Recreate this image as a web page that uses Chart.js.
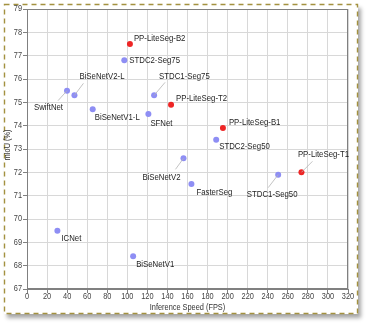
<!DOCTYPE html>
<html>
<head>
<meta charset="utf-8">
<script src="https://cdn.jsdelivr.net/npm/chart.js@4/dist/chart.umd.min.js"></script>
<style>
    body { margin: 0; background: #fff; }
    .frame {
        position: absolute; left: 4px; top: 4px;
        width: 354px; height: 310px;
        background: #fff;
        box-shadow: 3px 4px 4px rgba(0, 0, 0, 0.35);
    }
    #chart { position: absolute; left: 0; top: 0; }
</style>
</head>
<body>
<div class="frame"></div>
<canvas id="chart" width="367" height="324"></canvas>
<script>
// other real-time models
const otherNames = ['SwiftNet', 'BiSeNetV2-L', 'BiSeNetV1-L', 'STDC2-Seg75', 'STDC1-Seg75', 'SFNet',
    'STDC2-Seg50', 'BiSeNetV2', 'FasterSeg', 'STDC1-Seg50', 'ICNet', 'BiSeNetV1'];
const otherFps = [39.9, 47.3, 65.5, 97.0, 126.7, 121.0, 188.6, 156.0, 163.9, 250.4, 30.3, 105.8];
const otherMiou = [75.5, 75.3, 74.7, 76.8, 75.3, 74.5, 73.4, 72.6, 71.5, 71.9, 69.5, 68.4];

// PP-LiteSeg
const ppNames = ['PP-LiteSeg-B2', 'PP-LiteSeg-T2', 'PP-LiteSeg-B1', 'PP-LiteSeg-T1'];
const ppFps = [102.6, 143.6, 195.3, 273.6];
const ppMiou = [77.5, 74.9, 73.9, 72.0];

const xTicks = [0, 20, 40, 60, 80, 100, 120, 140, 160, 180, 200, 220, 240, 260, 280, 300, 320];
const yTicks = [67, 68, 69, 70, 71, 72, 73, 74, 75, 76, 77, 78, 79];
const xTitle = 'Inference Speed (FPS)';
const yTitle = 'mIoU (%)';

const FONT = "'Liberation Sans', Arial, sans-serif";
const NARROW = 0.82; // text is drawn squeezed sideways

// where each name goes relative to its dot; 'line' = leader line end
const labelPlace = {
    'SwiftNet': { dx: -4, dy: 17, align: 'right', line: [-9, 10] },
    'BiSeNetV2-L': { dx: 5, dy: -19, align: 'left', line: [9, -12] },
    'BiSeNetV1-L': { dx: 2, dy: 8, align: 'left' },
    'STDC2-Seg75': { dx: 5, dy: 0, align: 'left' },
    'STDC1-Seg75': { dx: 5, dy: -19, align: 'left', line: [11, -13] },
    'SFNet': { dx: 2, dy: 9, align: 'left' },
    'STDC2-Seg50': { dx: 3, dy: 7, align: 'left' },
    'BiSeNetV2': { dx: -3, dy: 19, align: 'right', line: [-8, 11] },
    'FasterSeg': { dx: 5, dy: 8, align: 'left' },
    'STDC1-Seg50': { dx: -6, dy: 20, align: 'center', line: [-10, 13] },
    'ICNet': { dx: 4, dy: 8, align: 'left' },
    'BiSeNetV1': { dx: 3, dy: 8, align: 'left' },
    'PP-LiteSeg-B2': { dx: 4, dy: -6, align: 'left' },
    'PP-LiteSeg-T2': { dx: 5, dy: -6, align: 'left' },
    'PP-LiteSeg-B1': { dx: 6, dy: -6, align: 'left' },
    'PP-LiteSeg-T1': { dx: 22, dy: -18, align: 'center', line: [11, -11] }
};

function narrowText(ctx, text, x, y, align, rot) {
    ctx.save();
    ctx.translate(x, y);
    if (rot) ctx.rotate(rot);
    ctx.scale(NARROW, 1);
    ctx.textAlign = align;
    ctx.fillText(text, 0, 0);
    ctx.restore();
}

const pointLabels = {
    id: 'pointLabels',
    afterDatasetsDraw(chart) {
        const ctx = chart.ctx;
        ctx.save();
        ctx.font = '9.5px ' + FONT;
        ctx.textBaseline = 'middle';
        chart.data.datasets.forEach((ds, di) => {
            const meta = chart.getDatasetMeta(di);
            meta.data.forEach((pt, i) => {
                const name = ds.names[i];
                const p = labelPlace[name];
                if (!p) return;
                if (p.line) {
                    ctx.strokeStyle = '#b4b4b4';
                    ctx.lineWidth = 0.8;
                    ctx.beginPath();
                    ctx.moveTo(pt.x, pt.y);
                    ctx.lineTo(pt.x + p.line[0], pt.y + p.line[1]);
                    ctx.stroke();
                }
                ctx.fillStyle = '#1e1e1e';
                narrowText(ctx, name, pt.x + p.dx, pt.y + p.dy, p.align);
            });
        });
        ctx.restore();
    }
};

// tick labels and axis titles, squeezed like the point labels
const axisText = {
    id: 'axisText',
    afterDraw(chart) {
        const ctx = chart.ctx;
        const a = chart.chartArea;
        const xs = chart.scales.x;
        const ys = chart.scales.y;
        ctx.save();
        ctx.font = '9px ' + FONT;
        ctx.fillStyle = '#444';
        ctx.textBaseline = 'middle';
        xTicks.forEach(v => narrowText(ctx, String(v), xs.getPixelForValue(v), a.bottom + 8, 'center'));
        yTicks.forEach(v => narrowText(ctx, String(v), a.left - 5, ys.getPixelForValue(v), 'right'));
        ctx.fillStyle = '#333';
        narrowText(ctx, xTitle, (a.left + a.right) / 2, a.bottom + 19, 'center');
        narrowText(ctx, yTitle, 8, (a.top + a.bottom) / 2 - 4, 'center', -Math.PI / 2);
        ctx.restore();
    }
};

// dark frame round the plot area, dashed frame round the whole figure
const frames = {
    id: 'frames',
    beforeDraw(chart) {
        const ctx = chart.ctx;
        ctx.save();
        ctx.strokeStyle = '#a3913f';
        ctx.lineWidth = 1.4;
        ctx.setLineDash([5, 4]);
        ctx.strokeRect(4.5, 4.5, 353, 309);
        ctx.restore();
    },
    beforeDatasetsDraw(chart) {
        const a = chart.chartArea;
        const ctx = chart.ctx;
        ctx.save();
        ctx.strokeStyle = '#808080';
        ctx.lineWidth = 1;
        ctx.strokeRect(a.left + 0.5, a.top + 0.5, a.right - a.left - 1, a.bottom - a.top - 1);
        ctx.restore();
    }
};

const toPoints = (xs, ys) => xs.map((x, i) => ({ x: x, y: ys[i] }));

new Chart(document.getElementById('chart'), {
    type: 'scatter',
    data: {
        datasets: [{
            names: otherNames,
            data: toPoints(otherFps, otherMiou),
            backgroundColor: '#8e8ef4',
            borderWidth: 0,
            pointRadius: 3,
        }, {
            names: ppNames,
            data: toPoints(ppFps, ppMiou),
            backgroundColor: '#ee2525',
            borderWidth: 0,
            pointRadius: 3,
        }]
    },
    options: {
        responsive: false,
        animation: false,
        layout: { padding: { left: 0, top: 9, right: 19, bottom: 0 } },
        plugins: {
            legend: { display: false },
            tooltip: { enabled: false }
        },
        scales: {
            x: {
                type: 'linear',
                min: 0,
                max: 320,
                afterBuildTicks: scale => { scale.ticks = xTicks.map(v => ({ value: v })); },
                afterFit: scale => { scale.height = 35; },
                grid: { color: '#d8d8d8', tickColor: '#808080', tickLength: 4 },
                border: { color: '#808080' },
                ticks: { color: 'rgba(0,0,0,0)', font: { size: 9 }, maxRotation: 0 }
            },
            y: {
                type: 'linear',
                min: 67,
                max: 79,
                afterBuildTicks: scale => { scale.ticks = yTicks.map(v => ({ value: v })); },
                afterFit: scale => { scale.width = 27; },
                grid: { color: '#d8d8d8', tickColor: '#808080', tickLength: 4 },
                border: { color: '#808080' },
                ticks: { color: 'rgba(0,0,0,0)', font: { size: 9 } }
            }
        }
    },
    plugins: [frames, pointLabels, axisText]
});
</script>
</body>
</html>
